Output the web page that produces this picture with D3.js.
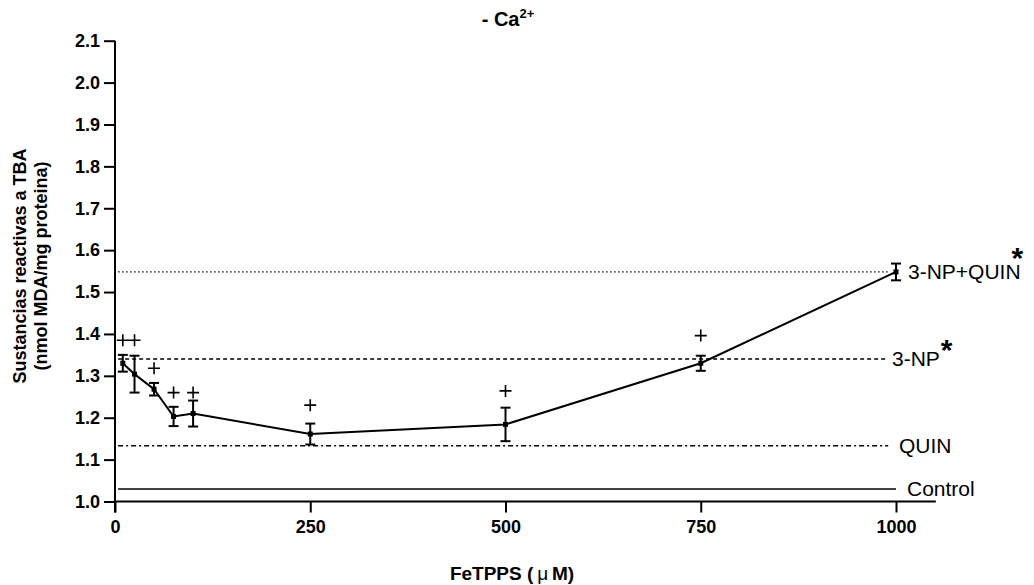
<!DOCTYPE html>
<html>
<head>
    <title>FeTPPS - Ca2+</title>
    <script src="https://d3js.org/d3.v7.min.js"></script>
    <style>
        body { margin: 0; background: #fff; }
        svg { font-family: "Liberation Sans", Arial, sans-serif; }
        .axis text { font-size: 18px; font-weight: bold; fill: #000; }
        .axis line { stroke: #000; stroke-width: 2px; }
        .ref-label { font-size: 21px; }
    </style>
</head>
<body>
    <div id="chart"></div>
    <script>
        // Data (FeTPPS concentration in uM)
        const doses = [10, 25, 50, 75, 100, 250, 500, 750, 1000];
        const means = [1.33, 1.304, 1.268, 1.203, 1.21, 1.161, 1.184, 1.33, 1.548];
        const errors = [0.02, 0.044, 0.015, 0.023, 0.031, 0.025, 0.04, 0.018, 0.02];
        // "+" significance marks (level in y units, null = none)
        const plusLevels = [1.385, 1.385, 1.318, 1.26, 1.26, 1.23, 1.264, 1.396, null];

        // Reference groups drawn as horizontal lines
        const refNames = ["Control", "QUIN", "3-NP", "3-NP+QUIN"];
        const refValues = [1.03, 1.133, 1.34, 1.548];
        const refStars = [false, false, true, true];
        const refDash = ["none", "5,3,2,3", "4,3", "1.5,2.5"];

        const xTicks = [0, 250, 500, 750, 1000];
        const yTicks = d3.range(10, 22).map(d => d / 10);

        const width = 1034, height = 585;
        const svg = d3.select("#chart").append("svg")
            .attr("width", width)
            .attr("height", height);

        const x = d3.scaleLinear().domain([0, 1000]).range([115, 896]);
        const y = d3.scaleLinear().domain([1.0, 2.1]).range([501.5, 40.7]);

        // Y axis
        const yAxis = svg.append("g")
            .attr("class", "axis")
            .attr("transform", `translate(${x(0)},0)`)
            .call(d3.axisLeft(y).tickValues(yTicks).tickFormat(d3.format(".1f"))
                .tickSize(11).tickPadding(4).tickSizeOuter(0));
        yAxis.select(".domain").remove();
        yAxis.append("line")
            .attr("x1", 0).attr("x2", 0)
            .attr("y1", y(2.1)).attr("y2", y(1.0) + 11);

        // X axis
        const xAxis = svg.append("g")
            .attr("class", "axis")
            .attr("transform", `translate(0,${y(1.0)})`)
            .call(d3.axisBottom(x).tickValues(xTicks).tickFormat(d3.format("d"))
                .tickSize(11).tickPadding(8).tickSizeOuter(0));
        xAxis.select(".domain").remove();
        xAxis.append("line")
            .attr("x1", x(0)).attr("x2", x(1051))
            .attr("y1", 0).attr("y2", 0);

        // Reference lines
        refNames.forEach((name, i) => {
            svg.append("line")
                .attr("x1", x(4)).attr("x2", x(i === 0 ? 1000 : 990))
                .attr("y1", y(refValues[i])).attr("y2", y(refValues[i]))
                .attr("stroke", "#000")
                .attr("stroke-width", i === 3 ? 1.2 : 1.6)
                .attr("stroke-dasharray", refDash[i]);
        });

        const labelX = [907, 899, 892, 908];
        svg.append("g").selectAll("text")
            .data(refNames)
            .join("text")
            .attr("class", "ref-label")
            .attr("x", (d, i) => labelX[i])
            .attr("y", (d, i) => y(refValues[i]))
            .attr("dy", "0.35em")
            .text(d => d)
            .each(function (d, i) {
                if (!refStars[i]) return;
                d3.select(this).append("tspan")
                    .attr("font-size", 30)
                    .attr("font-weight", "bold")
                    .attr("dx", i === 3 ? -9 : 1)
                    .attr("dy", i === 3 ? -11 : -6)
                    .text("*");
            });

        // Data line
        const pts = doses.map((d, i) => [d, means[i]]);
        svg.append("path")
            .datum(pts)
            .attr("fill", "none")
            .attr("stroke", "#000")
            .attr("stroke-width", 2)
            .attr("d", d3.line().x(d => x(d[0])).y(d => y(d[1])));

        // Error bars
        const eb = svg.append("g").attr("stroke", "#000").attr("stroke-width", 2);
        doses.forEach((d, i) => {
            const cx = x(d), top = y(means[i] + errors[i]), bot = y(means[i] - errors[i]);
            eb.append("line").attr("x1", cx).attr("x2", cx).attr("y1", top).attr("y2", bot);
            eb.append("line").attr("x1", cx - 5).attr("x2", cx + 5).attr("y1", top).attr("y2", top);
            eb.append("line").attr("x1", cx - 5).attr("x2", cx + 5).attr("y1", bot).attr("y2", bot);
        });

        // Points
        svg.append("g").selectAll("rect")
            .data(pts)
            .join("rect")
            .attr("x", d => x(d[0]) - 2.5)
            .attr("y", d => y(d[1]) - 2.5)
            .attr("width", 5).attr("height", 5)
            .attr("fill", "#000");

        // Plus marks
        svg.append("g")
            .attr("stroke", "#000")
            .attr("stroke-width", 1.6)
            .selectAll("path")
            .data(doses.map((d, i) => [d, plusLevels[i]]).filter(d => d[1] != null))
            .join("path")
            .attr("d", d => {
                const cx = x(d[0]), cy = y(d[1]);
                return `M${cx - 6},${cy}H${cx + 6}M${cx},${cy - 6}V${cy + 6}`;
            });

        // Title
        const title = svg.append("text")
            .attr("x", 508).attr("y", 26)
            .attr("text-anchor", "middle")
            .attr("font-size", 20)
            .attr("font-weight", "bold")
            .text("- Ca");
        title.append("tspan")
            .attr("font-size", 13)
            .attr("dy", -8)
            .text("2+");

        // Axis titles
        const xt = svg.append("text")
            .attr("x", 512).attr("y", 580)
            .attr("text-anchor", "middle")
            .attr("font-size", 19)
            .attr("font-weight", "bold")
            .text("FeTPPS (\u2009");
        xt.append("tspan").attr("font-weight", "normal").text("\u03bc");
        xt.append("tspan").text("\u2009M)");

        const yt = svg.append("text")
            .attr("transform", "translate(26,266) rotate(-90)")
            .attr("text-anchor", "middle")
            .attr("font-size", 18)
            .attr("font-weight", "bold");
        yt.append("tspan").attr("x", 0).attr("y", 0).text("Sustancias reactivas a TBA");
        yt.append("tspan").attr("x", 0).attr("y", 21).text("(nmol MDA/mg proteina)");
    </script>
</body>
</html>
